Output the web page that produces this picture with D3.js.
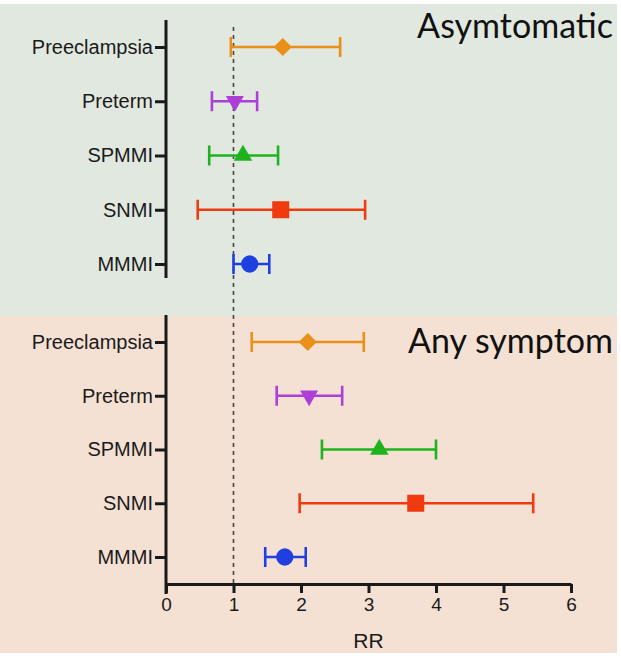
<!DOCTYPE html>
<html>
<head>
<meta charset="utf-8">
<script src="https://cdn.jsdelivr.net/npm/d3@7/dist/d3.min.js"></script>
<style>
  html, body { margin: 0; padding: 0; background: #ffffff; }
  svg { display: block; }
</style>
</head>
<body>
<svg id="chart" width="621" height="664"></svg>
<script>
// ---- data ----
const categories = ["Preeclampsia", "Preterm", "SPMMI", "SNMI", "MMMI"];
const panelTitles = ["Asymtomatic", "Any symptom"];
const asymRR   = [1.73, 1.02, 1.14, 1.70, 1.24];
const asymLow  = [0.96, 0.68, 0.64, 0.47, 1.00];
const asymHigh = [2.58, 1.35, 1.66, 2.95, 1.53];
const anyRR    = [2.10, 2.12, 3.16, 3.70, 1.76];
const anyLow   = [1.27, 1.64, 2.31, 1.98, 1.47];
const anyHigh  = [2.93, 2.61, 4.00, 5.44, 2.07];
const xTicks = [0, 1, 2, 3, 4, 5, 6];
const referenceRR = 1;
const xLabel = "RR";
const seriesColors = ["#E8901A", "#AC3FD6", "#1DB31D", "#F03A10", "#1F3FE0"];
const seriesShapes = ["diamond", "triangleDown", "triangle", "square", "circle"];

// ---- layout ----
const svg = d3.select("#chart");
const x = d3.scaleLinear().domain([0, 6]).range([166, 571]);
const axisY = 584;

const panels = [
  { title: panelTitles[0], rr: asymRR, low: asymLow, high: asymHigh,
    bg: "#E1E8DF", bgTop: 4, bgBottom: 316, rowTop: 47, rowBottom: 264,
    axisTop: 20, axisBottom: 278, titleY: 38 },
  { title: panelTitles[1], rr: anyRR, low: anyLow, high: anyHigh,
    bg: "#F5E1D4", bgTop: 316, bgBottom: 653, rowTop: 342, rowBottom: 557,
    axisTop: 315, axisBottom: axisY, titleY: 353 }
];

// backgrounds
panels.forEach(p => {
  svg.append("rect").attr("x", 0).attr("y", p.bgTop)
    .attr("width", 617).attr("height", p.bgBottom - p.bgTop).attr("fill", p.bg);
});

// reference dashed line
svg.append("line")
  .attr("x1", x(referenceRR)).attr("x2", x(referenceRR))
  .attr("y1", 27).attr("y2", axisY)
  .attr("stroke", "#444").attr("stroke-width", 1.6)
  .attr("stroke-dasharray", "4,4");

function symbolPath(shape) {
  switch (shape) {
    case "diamond": return { d: d3.symbol(d3.symbolSquare, 165)(), rot: 45 };
    case "triangleDown": return { d: d3.symbol(d3.symbolTriangle, 140)(), rot: 180 };
    case "triangle": return { d: d3.symbol(d3.symbolTriangle, 150)(), rot: 0 };
    case "square": return { d: d3.symbol(d3.symbolSquare, 290)(), rot: 0 };
    case "circle": return { d: d3.symbol(d3.symbolCircle, 235)(), rot: 0 };
  }
}

panels.forEach(p => {
  const y = d3.scalePoint().domain(categories).range([p.rowTop, p.rowBottom]);
  const g = svg.append("g");

  // y axis
  const ax = g.append("g").attr("transform", `translate(${x(0)},0)`)
    .call(d3.axisLeft(y).tickSize(11).tickSizeOuter(0).tickPadding(2));
  ax.select(".domain").remove();
  ax.selectAll(".tick line").attr("stroke", "#1a1a1a").attr("stroke-width", 3);
  ax.selectAll(".tick text")
    .attr("font-family", "'Liberation Sans', Arial, sans-serif")
    .attr("font-size", 20).attr("fill", "#1a1a1a");
  g.append("line")
    .attr("x1", x(0)).attr("x2", x(0))
    .attr("y1", p.axisTop).attr("y2", p.axisBottom + (p.axisBottom === axisY ? 10 : 0))
    .attr("stroke", "#1a1a1a").attr("stroke-width", 3);

  // error bars & markers
  const rows = categories.map((c, i) => ({
    cat: c, rr: p.rr[i], low: p.low[i], high: p.high[i],
    color: seriesColors[i], shape: seriesShapes[i]
  }));
  const row = g.selectAll(".row").data(rows).join("g").attr("class", "row");
  row.append("line")
    .attr("x1", d => x(d.low)).attr("x2", d => x(d.high))
    .attr("y1", d => y(d.cat)).attr("y2", d => y(d.cat))
    .attr("stroke", d => d.color).attr("stroke-width", 2.6);
  ["low", "high"].forEach(k => {
    row.append("line")
      .attr("x1", d => x(d[k])).attr("x2", d => x(d[k]))
      .attr("y1", d => y(d.cat) - 10).attr("y2", d => y(d.cat) + 10)
      .attr("stroke", d => d.color).attr("stroke-width", 2.6);
  });
  row.append("path")
    .attr("d", d => symbolPath(d.shape).d)
    .attr("transform", d => `translate(${x(d.rr)},${y(d.cat)}) rotate(${symbolPath(d.shape).rot})`)
    .attr("fill", d => d.color);

  // panel title
  svg.append("text")
    .attr("x", 613).attr("y", p.titleY)
    .attr("text-anchor", "end")
    .attr("font-family", "Lato, 'Open Sans', sans-serif")
    .attr("font-size", 34).attr("fill", "#111")
    .text(p.title);
});

// x axis
const xa = svg.append("g").attr("transform", `translate(0,${axisY})`)
  .call(d3.axisBottom(x).tickValues(xTicks).tickFormat(d3.format("d"))
    .tickSize(9).tickSizeOuter(0).tickPadding(5));
xa.select(".domain").attr("stroke", "#1a1a1a").attr("stroke-width", 3);
xa.selectAll(".tick line").attr("stroke", "#1a1a1a").attr("stroke-width", 3);
xa.selectAll(".tick text")
  .attr("font-family", "'Liberation Sans', Arial, sans-serif")
  .attr("font-size", 19).attr("fill", "#1a1a1a");

svg.append("text")
  .attr("x", x(3)).attr("y", 648)
  .attr("text-anchor", "middle")
  .attr("font-family", "'Liberation Sans', Arial, sans-serif")
  .attr("font-size", 21).attr("fill", "#1a1a1a")
  .text(xLabel);
</script>
</body>
</html>
